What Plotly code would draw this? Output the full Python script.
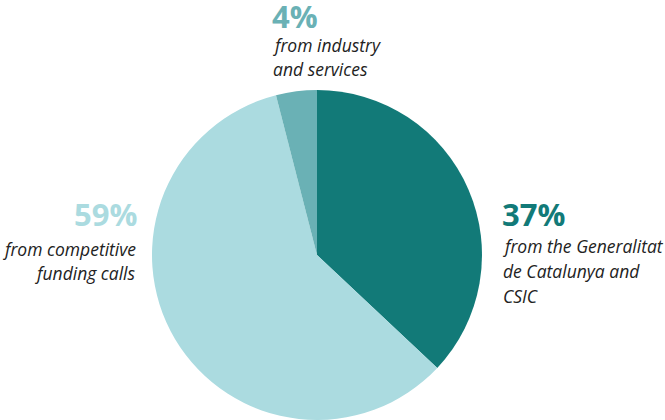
import plotly.graph_objects as go

W, H = 665, 420

labels = ["from the Generalitat de Catalunya and CSIC",
          "from competitive funding calls",
          "from industry and services"]
values = [37, 59, 4]
colors = ["#127a78", "#abdbe0", "#6ab1b5"]

fig = go.Figure()
fig.add_trace(go.Pie(
    labels=labels, values=values, sort=False, direction="clockwise", rotation=0,
    marker=dict(colors=colors, line=dict(width=0)),
    textinfo="none", hoverinfo="label+percent", showlegend=False,
    domain=dict(x=[152 / W, 482 / W], y=[0, 1 - 90 / H]),
))


def note(text, px, py, anchor, size, color, bold=False):
    fig.add_annotation(
        x=px / W, y=1 - py / H, xref="paper", yref="paper",
        text=f"<b>{text}</b>" if bold else f"<i>{text}</i>",
        showarrow=False, xanchor=anchor, yanchor="middle",
        font=dict(family="Open Sans", size=size, color=color),
    )


# 4% block
note(f"{values[2]}%", 270, 16, "left", 31, colors[2], bold=True)
note("from industry", 271, 45, "left", 17.5, "#222222")
note("and services", 271, 69, "left", 17.5, "#222222")

# 37% block
note(f"{values[0]}%", 500, 214, "left", 31, colors[0], bold=True)
note("from the Generalitat", 501, 246, "left", 17.5, "#222222")
note("de Catalunya and", 501, 271, "left", 17.5, "#222222")
note("CSIC", 501, 296, "left", 17.5, "#222222")

# 59% block
note(f"{values[1]}%", 139, 214, "right", 31, colors[1], bold=True)
note("from competitive", 138, 249, "right", 17.5, "#222222")
note("funding calls", 138, 273, "right", 17.5, "#222222")

fig.update_layout(
    width=W, height=H,
    margin=dict(l=0, r=0, t=0, b=0),
    paper_bgcolor="white", plot_bgcolor="white",
)

# drop the default 8px page margin so the figure sits at the window's corner
fig.write_html("out.html", config={"displayModeBar": False},
               post_script="document.body.style.margin='0';")
